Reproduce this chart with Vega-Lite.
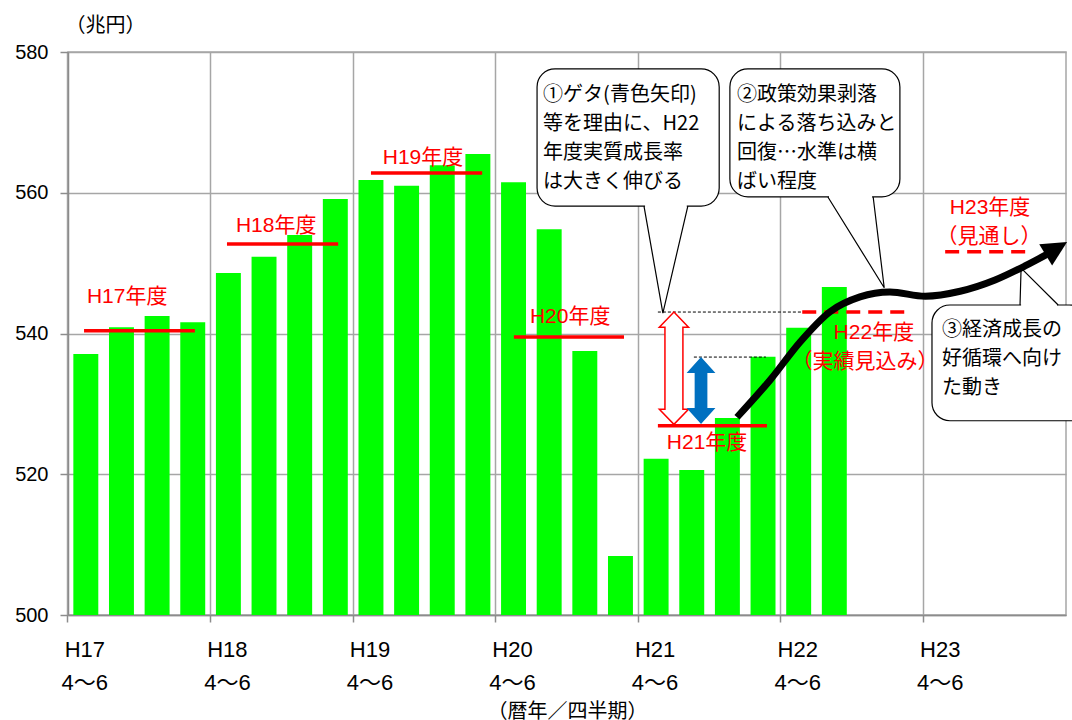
{
  "$schema": "https://vega.github.io/schema/vega-lite/v6.json",
  "width": 998,
  "height": 563,
  "autosize": "none",
  "padding": {"left": 68, "top": 52, "right": 6, "bottom": 105},
  "background": "white",
  "config": {
    "font": "Liberation Sans, Noto Sans CJK JP",
    "view": {"stroke": "#a6a6a6", "strokeWidth": 1.5},
    "axis": {
      "gridColor": "#a6a6a6", "gridWidth": 1.5, "gridOpacity": 1,
      "domainColor": "#8c8c8c", "domainWidth": 1.5,
      "tickColor": "#8c8c8c", "tickWidth": 1.5,
      "labelFont": "Liberation Sans, Noto Sans CJK JP", "labelFontSize": 20, "labelColor": "black",
      "titleFont": "Liberation Sans, Noto Sans CJK JP", "titleFontSize": 20, "titleFontWeight": "normal", "titleColor": "black"
    }
  },
  "datasets": {
    "bars": [
      {"q": "H17 4～6", "v": 537.1}, {"q": "H17 7～9", "v": 540.9}, {"q": "H17 10～12", "v": 542.5}, {"q": "H17 1～3", "v": 541.6},
      {"q": "H18 4～6", "v": 548.6}, {"q": "H18 7～9", "v": 550.9}, {"q": "H18 10～12", "v": 554.0}, {"q": "H18 1～3", "v": 559.1},
      {"q": "H19 4～6", "v": 561.8}, {"q": "H19 7～9", "v": 561.0}, {"q": "H19 10～12", "v": 563.9}, {"q": "H19 1～3", "v": 565.5},
      {"q": "H20 4～6", "v": 561.5}, {"q": "H20 7～9", "v": 554.8}, {"q": "H20 10～12", "v": 537.5}, {"q": "H20 1～3", "v": 508.4},
      {"q": "H21 4～6", "v": 522.2}, {"q": "H21 7～9", "v": 520.6}, {"q": "H21 10～12", "v": 528.0}, {"q": "H21 1～3", "v": 536.7},
      {"q": "H22 4～6", "v": 540.8}, {"q": "H22 7～9", "v": 546.6}
    ],
    "fy": [
      {"name": "H17年度", "kind": "actual", "u": 0.45, "u2": 3.56, "v": 540.4},
      {"name": "H18年度", "kind": "actual", "u": 4.46, "u2": 7.58, "v": 552.7},
      {"name": "H19年度", "kind": "actual", "u": 8.50, "u2": 11.62, "v": 562.8},
      {"name": "H20年度", "kind": "actual", "u": 12.51, "u2": 15.60, "v": 539.5},
      {"name": "H21年度", "kind": "actual", "u": 16.55, "u2": 19.61, "v": 526.9},
      {"name": "H22年度", "kind": "forecast", "u": 20.60, "u2": 23.63, "v": 543.05},
      {"name": "H23年度", "kind": "forecast", "u": 24.61, "u2": 26.94, "v": 551.6}
    ],
    "labels": [
      {"text": "H17年度", "u": 1.66, "v": 545.2},
      {"text": "H18年度", "u": 5.84, "v": 555.3},
      {"text": "H19年度", "u": 9.96, "v": 564.9},
      {"text": "H20年度", "u": 14.09, "v": 542.3},
      {"text": "H21年度", "u": 17.93, "v": 524.4},
      {"text": "H22年度", "u": 22.61, "v": 540.1},
      {"text": "（実績見込み）", "u": 22.36, "v": 535.9},
      {"text": "H23年度", "u": 25.87, "v": 557.8},
      {"text": "（見通し）", "u": 25.84, "v": 553.7}
    ],
    "refs": [
      {"u": 16.55, "u2": 20.60, "v": 543.05},
      {"u": 17.56, "u2": 19.58, "v": 536.65}
    ],
    "hollow": [{"u": 17.0, "v": 535.07}],
    "blue": [{"u": 17.76, "v": 531.9}],
    "curve": [
      {"u": 18.77, "v": 528.1}, {"u": 19.70, "v": 533.4}, {"u": 20.54, "v": 538.8},
      {"u": 21.38, "v": 543.1}, {"u": 22.22, "v": 545.2}, {"u": 23.06, "v": 545.9},
      {"u": 24.05, "v": 545.3}, {"u": 25.03, "v": 546.0}, {"u": 26.01, "v": 547.6},
      {"u": 26.85, "v": 549.6}, {"u": 27.45, "v": 551.2}
    ],
    "head": [{"u": 27.73, "v": 552.09}],
    "boxes": [
      {"u": 13.16, "u2": 18.27, "v": 558.1, "v2": 577.6},
      {"u": 18.57, "u2": 23.34, "v": 559.4, "v2": 577.6},
      {"u": 24.24, "u2": 28.6, "v": 527.6, "v2": 544.05}
    ],
    "gaps": [
      {"u": 16.19, "u2": 17.36, "v": 558.1},
      {"u": 21.35, "u2": 22.56, "v": 559.4},
      {"u": 26.74, "u2": 27.75, "v": 544.05}
    ],
    "tails": [
      {"id": 1, "i": 0, "u": 16.16, "v": 558.1}, {"id": 1, "i": 1, "u": 16.69, "v": 542.9}, {"id": 1, "i": 2, "u": 17.39, "v": 558.1},
      {"id": 2, "i": 0, "u": 21.32, "v": 559.4}, {"id": 2, "i": 1, "u": 22.90, "v": 546.5}, {"id": 2, "i": 2, "u": 22.59, "v": 559.4},
      {"id": 3, "i": 0, "u": 26.71, "v": 544.05}, {"id": 3, "i": 1, "u": 26.74, "v": 549.3}, {"id": 3, "i": 2, "u": 27.78, "v": 544.05}
    ],
    "notes": [
      {"u": 13.33, "v": 575.3, "text": "①ゲタ(青色矢印)\n等を理由に、H22\n年度実質成長率\nは大きく伸びる"},
      {"u": 18.77, "v": 575.3, "text": "②政策効果剥落\nによる落ち込みと\n回復…水準は横\nばい程度"},
      {"u": 24.52, "v": 541.9, "text": "③経済成長の\n好循環へ向け\nた動き"}
    ]
  },
  "encoding": {
    "y": {
      "field": "v", "type": "quantitative",
      "scale": {"domain": [500, 580], "zero": false, "nice": false},
      "axis": {
        "values": [500, 520, 540, 560, 580], "grid": true, "tickSize": 8, "labelPadding": 12,
        "title": "（兆円）", "titleAngle": 0, "titleAlign": "left", "titleBaseline": "middle",
        "titleX": -3, "titleY": -27
      }
    }
  },
  "layer": [
    {
      "data": {"name": "bars"},
      "mark": {"type": "bar", "color": "#00ff00"},
      "encoding": {
        "x": {
          "field": "q", "type": "nominal", "sort": null,
          "scale": {
            "domain": [
              "H17 4～6", "H17 7～9", "H17 10～12", "H17 1～3",
              "H18 4～6", "H18 7～9", "H18 10～12", "H18 1～3",
              "H19 4～6", "H19 7～9", "H19 10～12", "H19 1～3",
              "H20 4～6", "H20 7～9", "H20 10～12", "H20 1～3",
              "H21 4～6", "H21 7～9", "H21 10～12", "H21 1～3",
              "H22 4～6", "H22 7～9", "H22 10～12", "H22 1～3",
              "H23 4～6", "H23 7～9", "H23 10～12", "H23 1～3"
            ],
            "paddingInner": 0.3, "paddingOuter": 0.15
          },
          "axis": {
            "values": ["H17 4～6", "H18 4～6", "H19 4～6", "H20 4～6", "H21 4～6", "H22 4～6", "H23 4～6"],
            "bandPosition": -0.2143, "grid": true, "tickSize": 7,
            "labelOffset": -1, "labelAngle": 0, "labelAlign": "center", "labelBaseline": "top", "labelFontSize": 22,
            "labelPadding": 17, "labelLineHeight": 33, "labelOverlap": false, "labelBound": false, "labelFlush": false,
            "labelExpr": "[slice(datum.value, 0, 3), slice(datum.value, 4)]",
            "title": "（暦年／四半期）", "titleBaseline": "middle", "titleY": 96
          }
        },
        "y2": {"datum": 500}
      }
    },
    {
      "encoding": {
        "x": {"field": "u", "type": "quantitative", "scale": {"domain": [0, 28], "nice": false, "zero": false}, "axis": null}
      },
      "layer": [
        {
          "data": {"name": "fy"},
          "mark": {"type": "rule", "color": "#ff0000", "strokeWidth": 3.5},
          "encoding": {
            "x2": {"field": "u2"},
            "strokeDash": {"field": "kind", "type": "nominal", "scale": {"domain": ["actual", "forecast"], "range": [[1, 0], [14, 8]]}, "legend": null}
          }
        },
        {
          "data": {"name": "refs"},
          "mark": {"type": "rule", "color": "black", "strokeWidth": 1, "strokeDash": [3, 2]},
          "encoding": {"x2": {"field": "u2"}}
        },
        {
          "data": {"name": "hollow"},
          "mark": {"type": "point", "filled": true, "fill": "white", "stroke": "#ff0000", "strokeWidth": 1.5, "opacity": 1, "size": 12611,
            "shape": "M0,-1L0.26,-0.73L0.16,-0.73L0.16,0.73L0.26,0.73L0,1L-0.26,0.73L-0.16,0.73L-0.16,-0.73L-0.26,-0.73Z"}
        },
        {
          "data": {"name": "blue"},
          "mark": {"type": "point", "filled": true, "fill": "#0070c0", "strokeWidth": 0, "opacity": 1, "size": 4489,
            "shape": "M0,-1L0.43,-0.52L0.19,-0.52L0.19,0.52L0.43,0.52L0,1L-0.43,0.52L-0.19,0.52L-0.19,-0.52L-0.43,-0.52Z"}
        },
        {
          "data": {"name": "curve"},
          "mark": {"type": "line", "color": "black", "strokeWidth": 7, "interpolate": "monotone", "strokeCap": "butt"}
        },
        {
          "data": {"name": "head"},
          "mark": {"type": "point", "filled": true, "fill": "black", "strokeWidth": 0, "opacity": 1, "size": 625, "angle": -31,
            "shape": "M1,0L-1,-1L-1,1Z"}
        },
        {
          "data": {"name": "boxes"},
          "mark": {"type": "rect", "fill": "white", "stroke": "black", "strokeWidth": 1.2, "cornerRadius": 18},
          "encoding": {"x2": {"field": "u2"}, "y2": {"field": "v2"}}
        },
        {
          "data": {"name": "gaps"},
          "mark": {"type": "rule", "color": "white", "strokeWidth": 3},
          "encoding": {"x2": {"field": "u2"}}
        },
        {
          "data": {"name": "tails"},
          "mark": {"type": "line", "color": "black", "strokeWidth": 1.2},
          "encoding": {"detail": {"field": "id", "type": "nominal"}, "order": {"field": "i", "type": "quantitative"}}
        },
        {
          "data": {"name": "notes"},
          "mark": {"type": "text", "align": "left", "baseline": "top", "fontSize": 20, "lineHeight": 29, "lineBreak": "\n", "color": "black", "font": "Noto Sans CJK JP"},
          "encoding": {"text": {"field": "text"}}
        },
        {
          "data": {"name": "labels"},
          "mark": {"type": "text", "align": "center", "baseline": "middle", "fontSize": 21, "color": "#ff0000", "font": "Liberation Sans, Noto Sans CJK JP"},
          "encoding": {"text": {"field": "text"}}
        }
      ]
    }
  ],
  "resolve": {"scale": {"x": "independent"}}
}
